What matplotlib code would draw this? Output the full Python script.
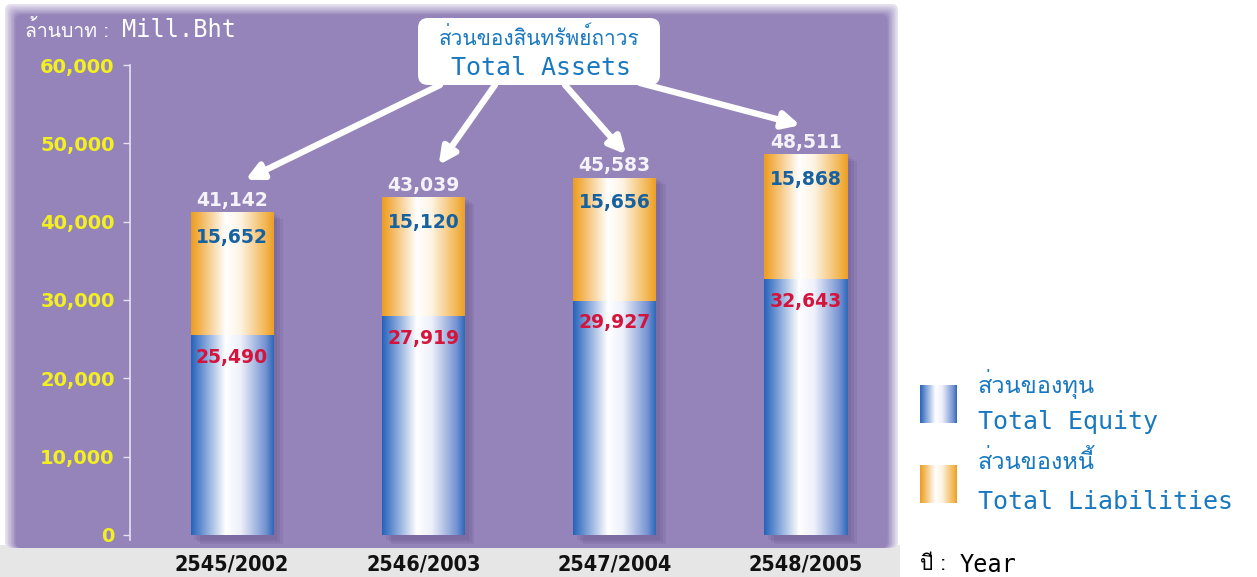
import numpy as np
import matplotlib
matplotlib.use('Agg')
import matplotlib.pyplot as plt
from matplotlib import font_manager
from matplotlib.ft2font import FT2Font
from matplotlib.colors import LinearSegmentedColormap, to_rgb
from matplotlib.patches import FancyBboxPatch, Rectangle

years = ['2545/2002', '2546/2003', '2547/2004', '2548/2005']
equity = [25490, 27919, 29927, 32643]
liabilities = [15652, 15120, 15656, 15868]
totals = [41142, 43039, 45583, 48511]
yticks = [0, 10000, 20000, 30000, 40000, 50000, 60000]


def find_thai_font():
    # first installed font that has Thai glyphs
    for f in font_manager.fontManager.ttflist:
        try:
            if 0x0E2A in FT2Font(f.fname).get_charmap():
                return f.name
        except Exception:
            pass
    return 'DejaVu Sans'


thai = [find_thai_font(), 'DejaVu Sans']
mono = 'DejaVu Sans Mono'
blue_txt = '#1878c0'

W, H = 1257, 577
fig = plt.figure(figsize=(W / 100, H / 100), dpi=100)

# background layer in pixel coordinates
bg = fig.add_axes([0, 0, 1, 1])
bg.set_xlim(0, W)
bg.set_ylim(H, 0)
bg.axis('off')
bg.add_patch(Rectangle((0, 545), 900, 32, color='#e6e6e6', lw=0))

# purple panel with a soft light edge
outer = np.array(to_rgb('#f2eef7'))
inner = np.array(to_rgb('#9584b9'))
n = 8
for k in range(n):
    c = outer + (inner - outer) * (k + 1) / n
    d = 1.5 * k
    bg.add_patch(FancyBboxPatch((5 + d, 4 + d), 893 - 2 * d, 544 - d,
                                boxstyle='round,pad=0,rounding_size=6', fc=c, ec='none'))

# main axes
px_y = (535 - 65) / 60000
px_x = (806 - 232) / 3
ax = fig.add_axes([130 / W, (H - 548) / H, (900 - 130) / W, (548 - 20) / H])
ax.set_facecolor('none')

xs = np.arange(len(years))
w = 83 / px_x

grad = np.linspace(0, 1, 256).reshape(1, -1)
blue_cmap = LinearSegmentedColormap.from_list(
    'eq', [(0, '#2563b8'), (0.07, '#4a7cc8'), (0.42, '#ffffff'), (0.6, '#eef0fa'),
           (0.9, '#7593d2'), (1, '#2e68ba')])
orange_cmap = LinearSegmentedColormap.from_list(
    'li', [(0, '#eb9d22'), (0.08, '#f2ad45'), (0.42, '#ffffff'), (0.6, '#fdf3e2'),
           (0.9, '#f3b653'), (1, '#ec9f25')])

for i, x in enumerate(xs):
    # soft shadow
    for k in range(3):
        ax.add_patch(Rectangle((x - w / 2 + 0.02 + 0.015 * k, -600 - 250 * k), w, totals[i] + 300,
                               fc='#4a3a70', alpha=0.12, lw=0, zorder=1))
    ax.imshow(grad, cmap=blue_cmap, extent=[x - w / 2, x + w / 2, 0, equity[i]],
              aspect='auto', zorder=2)
    ax.imshow(grad, cmap=orange_cmap, extent=[x - w / 2, x + w / 2, equity[i], totals[i]],
              aspect='auto', zorder=2)

    ax.annotate(f'{totals[i]:,}', (x, totals[i]), xytext=(0, 2), textcoords='offset points',
                ha='center', va='bottom', color='#f6f2fa', fontsize=13.5, fontweight='bold', zorder=4)
    ax.annotate(f'{liabilities[i]:,}', (x, totals[i]), xytext=(0, -18), textcoords='offset points',
                ha='center', va='center', color='#16619f', fontsize=13.5, fontweight='bold', zorder=4)
    ax.annotate(f'{equity[i]:,}', (x, equity[i]), xytext=(0, -16), textcoords='offset points',
                ha='center', va='center', color='#d4143c', fontsize=13.5, fontweight='bold', zorder=4)

ax.set_xlim((130 - 232) / px_x, 3 + (900 - 806) / px_x)
ax.set_ylim(-(548 - 535) / px_y, (535 - 20) / px_y)

for s in ['top', 'right', 'bottom']:
    ax.spines[s].set_visible(False)
ax.spines['left'].set_color('#e6e2f0')
ax.spines['left'].set_linewidth(1.2)
ax.spines['left'].set_bounds(-700, 60000)

ax.set_yticks(yticks, [f'{v:,}' for v in yticks])
ax.tick_params(axis='y', colors='#e6e2f0', length=5, width=1, pad=6,
               labelcolor='#f2f020', labelsize=14)
for t in ax.get_yticklabels():
    t.set_fontweight('bold')
ax.set_xticks(xs, years)
ax.tick_params(axis='x', length=0, pad=5, labelsize=15.5, labelcolor='#111111')
for t in ax.get_xticklabels():
    t.set_fontweight('bold')
    t.set_fontstretch('condensed')

# arrows from the Total Assets box
heads = [(0.07, 4200), (0.08, 4200), (0.06, 3000), (-0.03, 3800)]
tails = [(440, 85), (495, 85), (565, 85), (640, 83)]
for i, x in enumerate(xs):
    ax.annotate('', xy=(x + heads[i][0], totals[i] + heads[i][1]), xytext=tails[i],
                textcoords=bg.transData,
                arrowprops=dict(arrowstyle='-|>,head_width=0.5,head_length=1.0', color='white',
                                lw=4.5, shrinkA=0, shrinkB=0), zorder=5)

# Total Assets box
bg.add_patch(FancyBboxPatch((418, 18), 242, 67, boxstyle='round,pad=0,rounding_size=10',
                            fc='white', ec='none'))
bg.text(539, 38, 'ส่วนของสินทรัพย์ถาวร', ha='center', va='center', color=blue_txt,
        fontsize=15, family=thai)
bg.text(541, 68, 'Total Assets', ha='center', va='center', color=blue_txt,
        fontsize=18, family=mono)

# unit label
bg.text(25, 30, 'ล้านบาท :', ha='left', va='center', color='white', fontsize=14, family=thai)
bg.text(122, 30, 'Mill.Bht', ha='left', va='center', color='white', fontsize=17, family=mono)

# legend
bg.imshow(grad, cmap=blue_cmap, extent=[920, 957, 423, 385], aspect='auto')
bg.imshow(grad, cmap=orange_cmap, extent=[920, 957, 503, 465], aspect='auto')
bg.text(978, 384, 'ส่วนของทุน', ha='left', va='center', color=blue_txt, fontsize=17, family=thai)
bg.text(978, 422, 'Total Equity', ha='left', va='center', color=blue_txt, fontsize=18, family=mono)
bg.text(978, 462, 'ส่วนของหนี้', ha='left', va='center', color=blue_txt, fontsize=17, family=thai)
bg.text(978, 502, 'Total Liabilities', ha='left', va='center', color=blue_txt, fontsize=18, family=mono)
bg.text(920, 565, 'ปี :', ha='left', va='center', color='black', fontsize=15, family=thai)
bg.text(960, 565, 'Year', ha='left', va='center', color='black', fontsize=17, family=mono)

bg.set_xlim(0, W)
bg.set_ylim(H, 0)

fig.savefig('out.png', dpi=100)
